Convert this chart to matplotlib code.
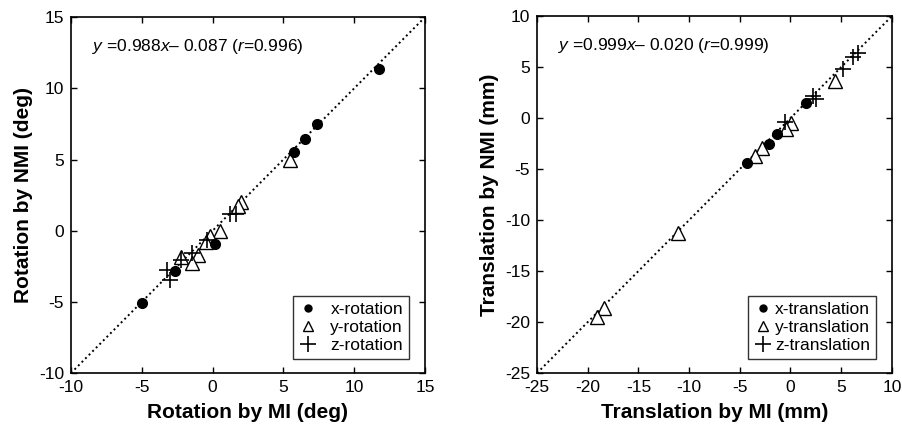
import matplotlib
matplotlib.use("Agg")
import matplotlib.pyplot as plt
from matplotlib.lines import Line2D

plt.rcParams['font.family'] = ['Liberation Sans', 'DejaVu Sans']
plt.rcParams['mathtext.fontset'] = 'custom'
plt.rcParams['mathtext.it'] = 'Liberation Sans:italic'
plt.rcParams['mathtext.rm'] = 'Liberation Sans'
plt.rcParams['axes.unicode_minus'] = False

# rotation (deg): MI vs NMI
rot_x_mi = [11.75, 7.35, 6.55, 5.75, 0.15, -2.65, -5.0]
rot_x_nmi = [11.35, 7.5, 6.45, 5.55, -0.9, -2.85, -5.05]
rot_y_mi = [5.45, 2.0, 1.8, 0.5, -0.15, -0.45, -1.0, -1.45, -2.2]
rot_y_nmi = [5.0, 2.05, 1.75, 0.0, -0.4, -0.8, -1.7, -2.3, -1.85]
rot_z_mi = [1.2, 1.65, -0.4, -1.45, -2.2, -3.25, -3.0]
rot_z_nmi = [1.15, 1.2, -0.65, -1.55, -2.05, -2.75, -3.45]

# translation (mm): MI vs NMI
tr_x_mi = [1.57, -1.35, -2.15, -4.3]
tr_x_nmi = [1.45, -1.55, -2.55, -4.4]
tr_y_mi = [4.36, 0.09, -0.45, -2.8, -3.5, -11.14, -18.37, -19.12]
tr_y_nmi = [3.65, -0.45, -1.05, -2.97, -3.75, -11.3, -18.66, -19.54]
tr_z_mi = [6.65, 6.17, 5.15, 2.25, 2.55, -0.55]
tr_z_nmi = [6.4, 6.0, 4.8, 2.15, 1.85, -0.4]

rot_eq = r'$y$ =0.988$x$– 0.087 ($r$=0.996)'
tr_eq = r'$y$ =0.999$x$– 0.020 ($r$=0.999)'


def draw_panel(ax, xs, ys, lims, ticks, eq, names, xlabel, ylabel, textpad):
    lo, hi = lims
    ax.plot([lo, hi], [lo, hi], color='black', lw=1.4,
            linestyle=(0, (1, 1.6)), zorder=1)
    ax.plot(xs[0], ys[0], 'o', color='black', ms=7, ls='none', zorder=3)
    ax.plot(xs[1], ys[1], '^', mfc='white', mec='black', mew=1.0, ms=9.5,
            ls='none', zorder=2)
    ax.plot(xs[2], ys[2], '+', color='black', mew=1.2, ms=12, ls='none',
            zorder=4)
    ax.set_xlim(lo, hi)
    ax.set_ylim(lo, hi)
    ax.set_xticks(ticks)
    ax.set_yticks(ticks)
    ax.tick_params(direction='in', top=True, right=True, length=4,
                   width=1, labelsize=12.5, pad=5)
    for sp in ax.spines.values():
        sp.set_linewidth(1.2)
    ax.set_xlabel(xlabel, fontsize=15, fontweight='bold', labelpad=6)
    ax.set_ylabel(ylabel, fontsize=15, fontweight='bold', labelpad=4)
    ax.text(0.06, 0.918, eq, transform=ax.transAxes, fontsize=12.5,
            va='center', ha='left')
    handles = [
        Line2D([], [], marker='o', color='black', ls='none', ms=5),
        Line2D([], [], marker='^', mfc='white', mec='black', ls='none',
               ms=7.5, mew=1.0),
        Line2D([], [], marker='+', color='black', ls='none', ms=11, mew=1.2),
    ]
    leg = ax.legend(handles, names, loc='lower right', fontsize=12.5,
                    frameon=True, fancybox=False, edgecolor='black',
                    handlelength=1.0, handletextpad=textpad,
                    borderpad=0.35, labelspacing=0.15,
                    bbox_to_anchor=(0.955, 0.04), borderaxespad=0)
    leg.get_frame().set_linewidth(1.0)


fig = plt.figure(figsize=(9.03, 4.41), dpi=100)
ax1 = fig.add_axes([0.0786, 0.154, 0.392, 0.807])
ax2 = fig.add_axes([0.5947, 0.154, 0.393, 0.8095])

draw_panel(ax1, [rot_x_mi, rot_y_mi, rot_z_mi],
           [rot_x_nmi, rot_y_nmi, rot_z_nmi],
           (-10, 15), [-10, -5, 0, 5, 10, 15], rot_eq,
           ['x-rotation', 'y-rotation', 'z-rotation'],
           'Rotation by MI (deg)', 'Rotation by NMI (deg)', 0.8)

draw_panel(ax2, [tr_x_mi, tr_y_mi, tr_z_mi],
           [tr_x_nmi, tr_y_nmi, tr_z_nmi],
           (-25, 10), [-25, -20, -15, -10, -5, 0, 5, 10], tr_eq,
           ['x-translation', 'y-translation', 'z-translation'],
           'Translation by MI (mm)', 'Translation by NMI (mm)', 0.2)

fig.savefig('out.png', dpi=100)
